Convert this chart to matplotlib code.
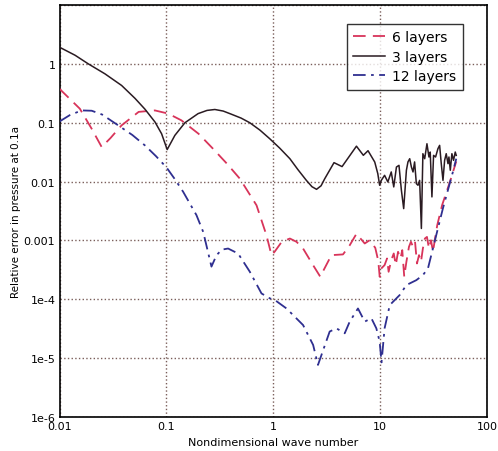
import matplotlib
matplotlib.use("Agg")
from matplotlib import pyplot as plt
from matplotlib.ticker import FixedLocator, FixedFormatter, NullLocator

# 3 layers
k3 = [0.01, 0.014, 0.0186, 0.0266, 0.0381, 0.0508, 0.063, 0.0782, 0.0902, 0.1017,
      0.12, 0.149, 0.198, 0.24, 0.284, 0.34, 0.4, 0.5, 0.603, 0.75, 0.927, 1.15,
      1.43, 1.7, 2.04, 2.3, 2.54, 2.8, 3.03,
      3.7, 4.4, 6.0, 6.96, 7.7, 8.9, 9.5, 9.89, 10.25, 11.0, 11.8, 12.7,
      13.4, 14.2, 15.0, 15.8, 16.6, 17.6, 18.2, 18.9, 19.6, 20.3, 21.0, 21.8,
      22.6, 23.4, 24.3, 25.1, 26.1, 27.4, 28.6, 29.4, 30.5, 31.6, 33.0, 34.7,
      36.0, 37.3, 38.7, 40.1, 41.5, 43.1, 44.0, 45.3, 46.9, 48.6, 50.4, 51.5]
err3 = [1.92, 1.4, 1.0, 0.678, 0.43, 0.26, 0.17, 0.103, 0.065, 0.035,
        0.061, 0.1, 0.143, 0.162, 0.168, 0.158, 0.141, 0.12, 0.1, 0.075, 0.0535, 0.037,
        0.0245, 0.016, 0.0105, 0.0082, 0.0074, 0.0085, 0.0112,
        0.021, 0.018, 0.040, 0.028, 0.0335, 0.0215, 0.0137, 0.00867, 0.0105, 0.0128, 0.00987, 0.0146,
        0.00813, 0.0177, 0.0189, 0.00713, 0.00348, 0.0156, 0.0216, 0.0245, 0.0177, 0.0146, 0.0216, 0.00925,
        0.00867, 0.0105, 0.0016, 0.0298, 0.0245, 0.044, 0.0262, 0.0318, 0.0055, 0.0279, 0.0262, 0.0362,
        0.0413, 0.0202, 0.0105, 0.023, 0.0298, 0.0202, 0.0262, 0.0156, 0.0298, 0.023, 0.0318, 0.0279]

# 6 layers
k6 = [0.01, 0.0155, 0.02, 0.0248, 0.03, 0.038, 0.055, 0.078, 0.104, 0.138, 0.2,
      0.273, 0.37, 0.487, 0.697, 0.863, 0.962, 1.03, 1.2, 1.43, 1.65, 1.9, 2.36,
      2.75, 3.5, 4.49, 5.19, 6.0, 7.17, 7.97, 9.0, 9.6, 9.9, 10.25, 11.0, 11.6,
      12.0, 12.7, 13.4, 14.0, 14.7, 15.5, 16.1, 16.8, 17.6, 18.6, 19.4, 20.3,
      21.2, 22.1, 23.1, 24.1, 25.1, 26.2, 27.4, 28.6, 29.9, 31.2, 32.8, 34.2,
      38.0, 45.0, 51.5]
err6 = [0.377, 0.173, 0.079, 0.0387, 0.055, 0.09, 0.153, 0.162, 0.143, 0.11, 0.065,
        0.0362, 0.02, 0.0112, 0.00396, 0.00123, 0.000564, 0.000645, 0.00095, 0.00108, 0.00095, 0.00073, 0.00038,
        0.000243, 0.000564, 0.00058, 0.00083, 0.0013, 0.00089, 0.00101, 0.00075, 0.00045, 0.000242, 0.000335, 0.000382, 0.000495,
        0.000294, 0.000464, 0.000602, 0.000382, 0.000643, 0.000495, 0.000686, 0.000242, 0.000435, 0.000781, 0.00095, 0.000781,
        0.00095, 0.000407, 0.000564, 0.000435, 0.000732, 0.00108, 0.00115, 0.000732, 0.00101, 0.000643, 0.00115, 0.00182,
        0.004, 0.01, 0.022]

# 12 layers
k12 = [0.01, 0.0125, 0.0161, 0.02, 0.025, 0.0355, 0.048, 0.063, 0.08, 0.1, 0.12,
       0.1436, 0.191, 0.221, 0.264, 0.294, 0.33, 0.378, 0.469, 0.603, 0.776,
       0.928, 1.03, 1.33, 1.9, 2.36, 2.62, 3.37, 3.9, 4.66, 5.19, 6.2, 7.17,
       8.28, 9.21, 9.89, 10.3, 11.0, 12.3, 15.2, 17.6, 21.8, 25.1, 28.0, 32.3,
       38.6, 47.9, 51.5]
err12 = [0.105, 0.135, 0.162, 0.16, 0.138, 0.09, 0.062, 0.0412, 0.027, 0.0175, 0.011,
         0.0067, 0.0027, 0.0014, 0.00036, 0.00056, 0.0007, 0.00073, 0.0006, 0.000295, 0.000126,
         0.000104, 9.8e-5, 7.0e-5, 3.66e-5, 1.68e-5, 7.7e-6, 2.84e-5, 3.22e-5, 2.65e-5, 4.19e-5, 7.0e-5, 4.19e-5,
         4.77e-5, 3.22e-5, 1.92e-5, 8.5e-6, 3.22e-5, 8.0e-5, 0.000118, 0.000175, 0.000212, 0.000258, 0.000335, 0.00095,
         0.00348, 0.0146, 0.0245]

yticks = [1e-6, 1e-5, 1e-4, 1e-3, 1e-2, 1e-1, 1, 10]
ylabels = ["1e-6", "1e-5", "1e-4", "0.001", "0.01", "0.1", "1", ""]
xticks = [0.01, 0.1, 1, 10, 100]
xlabels = ["0.01", "0.1", "1", "10", "100"]

fig = plt.figure(figsize=(4.98, 4.52), dpi=100)
ax = fig.add_axes([0.1195, 0.075, 0.8585, 0.9117])

ax.plot(k6, err6, color="#d8345a", lw=1.3, dashes=(7, 4), label="6 layers", zorder=3)
ax.plot(k3, err3, color="#2a1b22", lw=1.1, label="3 layers", zorder=4)
ax.plot(k12, err12, color="#2f2f90", lw=1.3, dashes=(7, 3, 1.5, 3), label="12 layers", zorder=3)

ax.set_xscale("log")
ax.set_yscale("log")
ax.set_xlim(0.01, 100)
ax.set_ylim(1e-6, 10)
ax.xaxis.set_major_locator(FixedLocator(xticks))
ax.xaxis.set_major_formatter(FixedFormatter(xlabels))
ax.yaxis.set_major_locator(FixedLocator(yticks))
ax.yaxis.set_major_formatter(FixedFormatter(ylabels))
ax.xaxis.set_minor_locator(NullLocator())
ax.yaxis.set_minor_locator(NullLocator())
ax.tick_params(length=0, labelsize=8, pad=3)
ax.grid(True, which="major", ls=":", color="#7a5e5a", lw=1)
for s in ax.spines.values():
    s.set_linewidth(1.2)

ax.set_xlabel("Nondimensional wave number", fontsize=8, labelpad=4)
ax.set_ylabel("Relative error in pressure at 0.1a", fontsize=7.5, labelpad=2)

leg = ax.legend(loc="upper right", bbox_to_anchor=(0.943, 0.954), fontsize=10,
                handlelength=2.3, frameon=True, fancybox=False, borderpad=0.45,
                labelspacing=0.4, handletextpad=0.5, borderaxespad=0)
leg.get_frame().set_edgecolor("black")
leg.get_frame().set_linewidth(1.0)

fig.savefig("out.png", dpi=100)
